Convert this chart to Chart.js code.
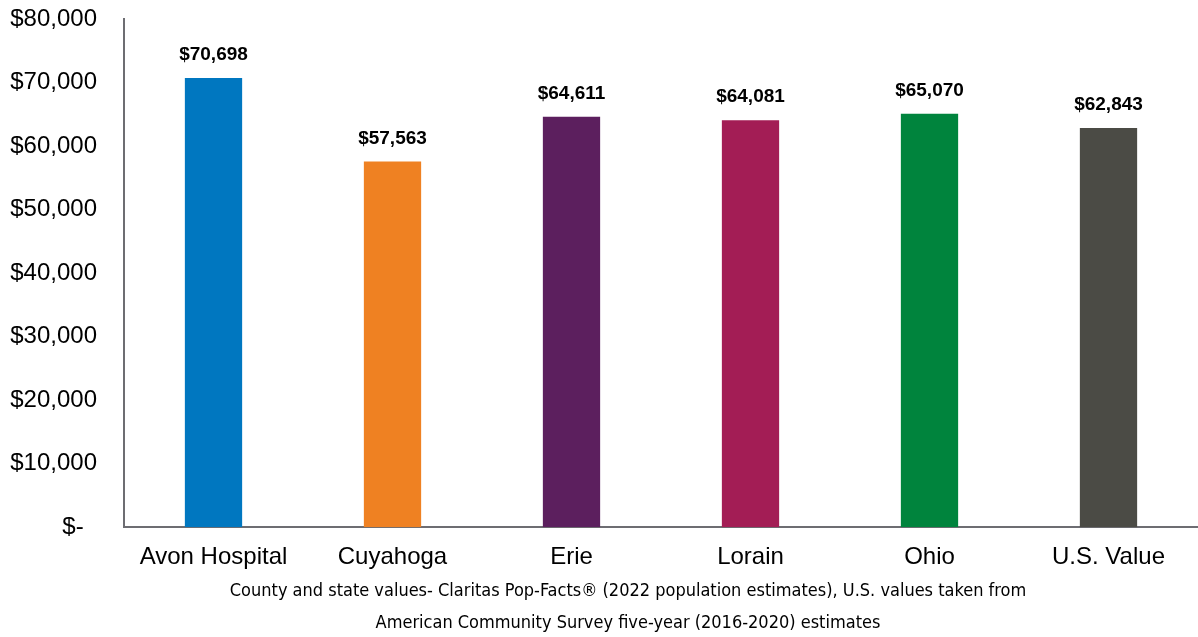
<!DOCTYPE html>
<html>
<head>
<meta charset="utf-8">
<script src="https://cdn.jsdelivr.net/npm/chart.js@4/dist/chart.umd.min.js"></script>
<style>
html,body{margin:0;padding:0;background:#fff;}
#wrap{width:1198px;height:637px;}
</style>
</head>
<body>
<div id="wrap"><canvas id="c"></canvas></div>
<script>
const categories = ["Avon Hospital", "Cuyahoga", "Erie", "Lorain", "Ohio", "U.S. Value"];
const values = [70698, 57563, 64611, 64081, 65070, 62843];
const barColors = ["#0077C0", "#EF8122", "#5C1F5E", "#A31D55", "#00843D", "#4B4B45"];
const yTicks = [0, 10000, 20000, 30000, 40000, 50000, 60000, 70000, 80000];
const caption = ["County and state values- Claritas Pop-Facts\u00AE (2022 population estimates), U.S. values taken from",
                 "American Community Survey five-year (2016-2020) estimates"];

const fmt = v => "$" + v.toLocaleString("en-US");

const valueLabels = {
  id: "valueLabels",
  afterDatasetsDraw(chart) {
    const ctx = chart.ctx;
    const meta = chart.getDatasetMeta(0);
    ctx.save();
    ctx.font = "bold 19px 'Liberation Sans', Arial, sans-serif";
    ctx.fillStyle = "#000";
    ctx.textAlign = "center";
    ctx.textBaseline = "middle";
    meta.data.forEach((bar, i) => {
      ctx.fillText(fmt(values[i]), bar.x, bar.y - 23);
    });
    ctx.restore();
  }
};

const captionPlugin = {
  id: "captionPlugin",
  afterDraw(chart) {
    const ctx = chart.ctx;
    const b = chart.chartArea.bottom;
    ctx.save();
    ctx.font = "18px 'DejaVu Sans Condensed', 'Liberation Sans Narrow', sans-serif";
    ctx.fillStyle = "#000";
    ctx.textAlign = "center";
    ctx.textBaseline = "middle";
    caption.forEach((line, i) => ctx.fillText(line, 628, b + 64 + i * 32));
    ctx.restore();
  }
};

new Chart(document.getElementById("c"), {
  type: "bar",
  data: {
    labels: categories,
    datasets: [{
      data: values,
      backgroundColor: barColors,
      borderWidth: 0,
      categoryPercentage: 1,
      barPercentage: 0.32
    }]
  },
  options: {
    responsive: true,
    maintainAspectRatio: false,
    animation: false,
    layout: { padding: { top: 19, left: 0, right: 0, bottom: 61 } },
    plugins: {
      legend: { display: false },
      tooltip: { enabled: false },
      title: { display: false }
    },
    scales: {
      x: {
        afterFit(scale) { scale.height -= 12; scale.paddingLeft = 0; scale.paddingRight = 0; },
        grid: { display: false, drawTicks: false },
        border: { display: true, color: "#6d6d72", width: 2 },
        ticks: {
          color: "#000",
          font: { family: "'Liberation Sans', Arial, sans-serif", size: 24 },
          padding: 16
        }
      },
      y: {
        min: 0,
        max: 80000,
        afterFit(scale) { scale.width = 124; scale.paddingTop = 0; scale.paddingBottom = 0; },
        afterBuildTicks(scale) { scale.ticks = yTicks.map(v => ({ value: v })); },
        grid: { display: false, drawTicks: false },
        border: { display: true, color: "#6d6d72", width: 2 },
        ticks: {
          color: "#000",
          font: { family: "'Liberation Sans', Arial, sans-serif", size: 24 },
          padding: 27,
          callback: v => v === 0 ? "$-  " : fmt(v)
        }
      }
    }
  },
  plugins: [valueLabels, captionPlugin]
});
</script>
</body>
</html>
